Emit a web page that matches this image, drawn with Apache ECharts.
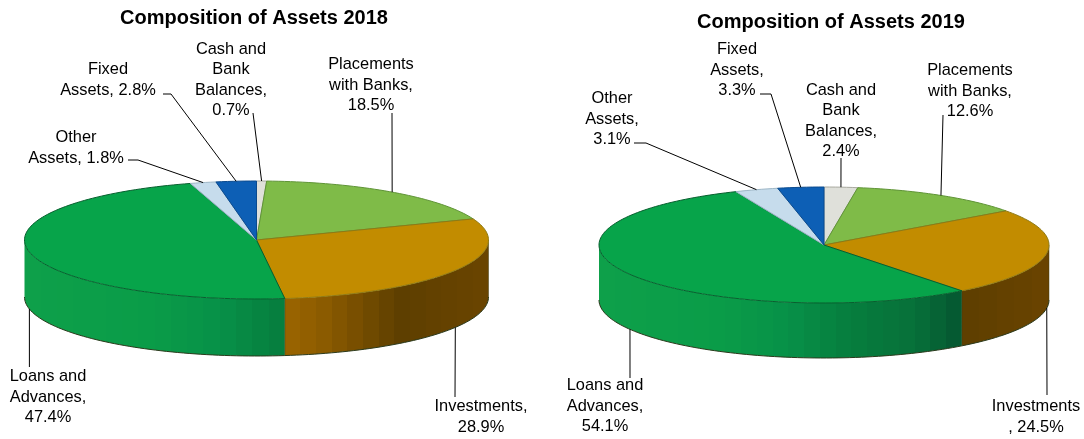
<!DOCTYPE html>
<html>
<head>
<meta charset="utf-8">
<style>html,body{margin:0;padding:0;background:#fff}#chart{width:1084px;height:439px}</style>
<script src="https://cdn.jsdelivr.net/npm/echarts@6/dist/echarts.min.js"></script>
</head>
<body>
<div id="chart"></div>
<script>
// Asset composition, percent of total, clockwise from twelve o'clock
const categories = ['Cash and Bank Balances', 'Placements with Banks', 'Investments', 'Loans and Advances', 'Other Assets', 'Fixed Assets'];
const values2018 = [0.7, 18.5, 28.9, 47.4, 1.8, 2.8];
const values2019 = [2.4, 12.6, 24.5, 54.1, 3.1, 3.3];
const labels2018 = ['Cash and\nBank\nBalances,\n{v}%', 'Placements\nwith Banks,\n{v}%', 'Investments,\n{v}%', 'Loans and\nAdvances,\n{v}%', 'Other\nAssets, {v}%', 'Fixed\nAssets, {v}%'];
const labels2019 = ['Cash and\nBank\nBalances,\n{v}%', 'Placements\nwith Banks,\n{v}%', 'Investments\n, {v}%', 'Loans and\nAdvances,\n{v}%', 'Other\nAssets,\n{v}%', 'Fixed\nAssets,\n{v}%'];

const faceColors = ['#dfe0da', '#7fbb48', '#c28c00', '#07a44a', '#c6dcec', '#0d5fb5'];
const faceStrokes = ['#a9aaa0', '#5f9436', '#8f7a14', '#075f2e', '#9db6c6', '#0a4a8e'];
// Wall shade by horizontal position: -1 left rim, 1 right rim
const wallShades = {
  2: [[0, '#a86c00'], [0.3, '#8a5a00'], [0.62, '#5e3f00'], [1, '#6a4400']],
  3: [[-1, '#0ea04a'], [-0.45, '#0a9c48'], [-0.15, '#079048'], [0.1, '#067e3e'], [0.4, '#07713a'], [0.62, '#045530']]
};

const pie2018 = {
  cx: 256.5, cy: 240, rx: 232, ry: 59, depth: 57,
  text: [[231, 80], [371, 85], [481, 417], [48, 397], [76, 148], [108, 80]],
  elbow: [[[253, 113]], [[392, 113]], [[455, 397]], [[29.4, 367]], [[128, 160], [138, 160]], [[163, 94], [171, 94]]]
};
const pie2019 = {
  cx: 824, cy: 245, rx: 225, ry: 58, depth: 55,
  text: [[841, 121], [970, 91], [1036, 417], [605, 406], [612, 119], [737, 70]],
  elbow: [[[841, 158]], [[943, 115]], [[1047, 395]], [[630, 378]], [[634, 143], [646, 143]], [[760, 94], [771, 94]]]
};

function arc(p, a0, a1, dy) {
  const pts = [];
  const n = Math.max(2, Math.ceil(Math.abs(a1 - a0) / 1.5));
  for (let i = 0; i <= n; i++) {
    const t = (a0 + (a1 - a0) * i / n) * Math.PI / 180;
    pts.push([p.cx + p.rx * Math.sin(t), p.cy - p.ry * Math.cos(t) + dy]);
  }
  return pts;
}

function shadeAt(stops, r) {
  if (r <= stops[0][0]) return stops[0][1];
  for (let i = 1; i < stops.length; i++) {
    if (r <= stops[i][0]) {
      const f = (r - stops[i - 1][0]) / (stops[i][0] - stops[i - 1][0]);
      return echarts.color.lerp(f, [stops[i - 1][1], stops[i][1]]);
    }
  }
  return stops[stops.length - 1][1];
}

// Banded fill across the wall, the way stepped 3D shading renders
function wallFill(p, index, x0, x1) {
  const stops = [];
  const bands = Math.max(1, Math.round((x1 - x0) / 16));
  for (let b = 0; b < bands; b++) {
    const mid = x0 + (x1 - x0) * (b + 0.5) / bands;
    const c = shadeAt(wallShades[index], (mid - p.cx) / p.rx);
    stops.push({ offset: b / bands, color: c }, { offset: (b + 1) / bands, color: c });
  }
  return new echarts.graphic.LinearGradient(x0, 0, x1, 0, stops, true);
}

function makeSeries(p, values, labels) {
  const total = values.reduce((a, b) => a + b, 0);
  const starts = [];
  values.reduce((acc, v, i) => { starts[i] = acc; return acc + v; }, 0);
  return {
    type: 'custom',
    coordinateSystem: 'none',
    silent: true,
    animation: false,
    clip: false,
    data: values.map((v, i) => ({ name: categories[i], value: [v] })),
    renderItem(params, api) {
      const i = params.dataIndex;
      const v = api.value(0);
      const a0 = starts[i] / total * 360;
      const a1 = a0 + v / total * 360;
      const mid = (a0 + a1) / 2;
      const children = [];

      const w0 = Math.max(a0, 90), w1 = Math.min(a1, 270);
      if (w1 > w0) {
        const upper = arc(p, w0, w1, 0);
        const lower = arc(p, w0, w1, p.depth);
        const xs = upper.map(q => q[0]);
        const xMin = Math.min.apply(null, xs), xMax = Math.max.apply(null, xs);
        children.push({
          type: 'polygon',
          shape: { points: upper.concat(lower.slice().reverse()) },
          style: { fill: wallFill(p, i, xMin, xMax), stroke: null }
        });
        children.push({
          type: 'polyline',
          shape: { points: lower },
          style: { fill: null, stroke: '#2b3a1c', lineWidth: 1 }
        });
        children.push({
          type: 'polyline',
          shape: { points: [upper[0], lower[0]] },
          style: { fill: null, stroke: '#3d3a12', lineWidth: 0.8, opacity: 0.6 }
        });
      }

      children.push({
        type: 'polygon',
        shape: { points: [[p.cx, p.cy]].concat(arc(p, a0, a1, 0)) },
        style: { fill: faceColors[i], stroke: faceStrokes[i], lineWidth: 1 }
      });

      // Leader runs from the label to the slice's mid angle on the visible rim
      const lower = mid > 90 && mid < 270;
      const end = arc(p, mid, mid, lower ? p.depth : 0)[0];
      children.push({
        type: 'polyline',
        shape: { points: p.elbow[i].concat([end]) },
        style: { fill: null, stroke: '#000', lineWidth: 1 },
        z2: 5
      });
      children.push({
        type: 'text',
        style: {
          x: p.text[i][0], y: p.text[i][1],
          text: labels[i].replace('{v}', v.toFixed(1)),
          font: '16.4px "Liberation Sans", Arial, sans-serif',
          lineHeight: 20.6,
          fill: '#000',
          align: 'center', verticalAlign: 'middle'
        },
        z2: 6
      });
      return { type: 'group', children };
    }
  };
}

const chart = echarts.init(document.getElementById('chart'), null, { renderer: 'canvas' });
const titleStyle = { fontFamily: '"Liberation Sans", Arial, sans-serif', fontWeight: 'bold', fontSize: 20, color: '#000' };
chart.setOption({
  animation: false,
  backgroundColor: '#fff',
  title: [
    { text: 'Composition of Assets 2018', left: 249, top: 3, textAlign: 'center', textStyle: titleStyle },
    { text: 'Composition of Assets 2019', left: 826, top: 7, textAlign: 'center', textStyle: titleStyle }
  ],
  series: [makeSeries(pie2018, values2018, labels2018), makeSeries(pie2019, values2019, labels2019)]
});
</script>
</body>
</html>
